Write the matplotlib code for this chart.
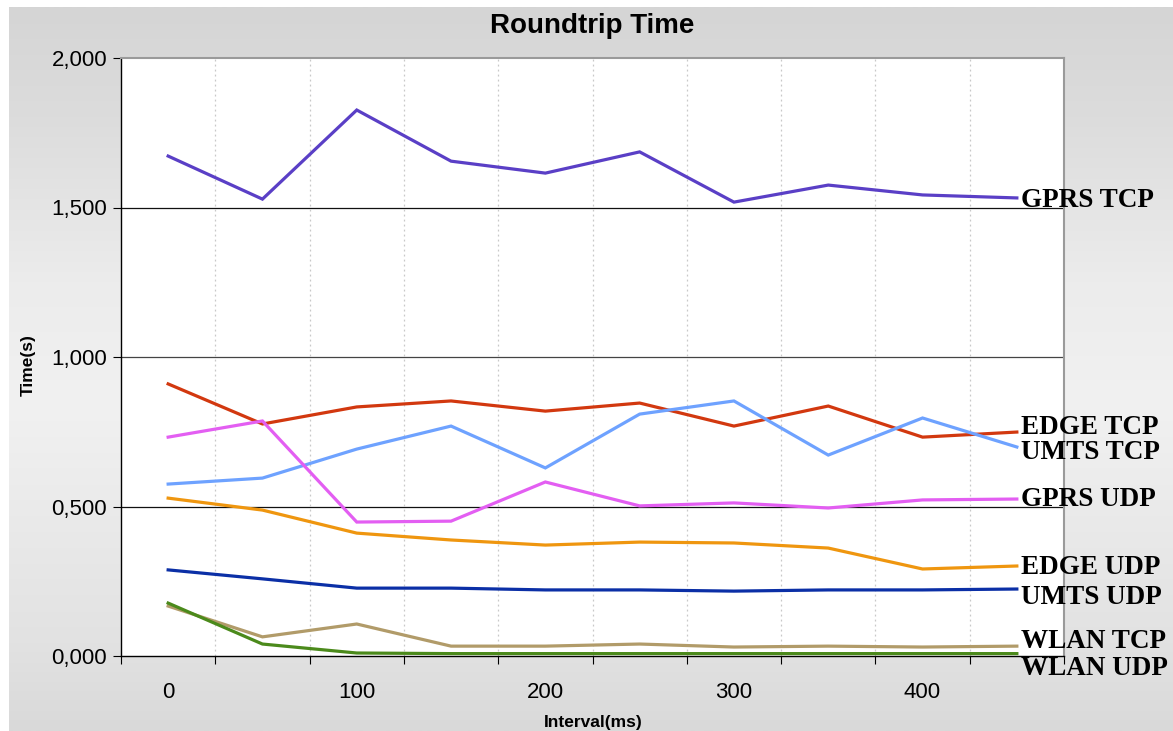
import numpy as np
import matplotlib
matplotlib.use("Agg")
import matplotlib.pyplot as plt
from matplotlib.colors import LinearSegmentedColormap

plt.rcParams['font.family'] = ['Liberation Sans', 'DejaVu Sans']

# interval (ms) and roundtrip times (s)
intervals = [0, 50, 100, 150, 200, 250, 300, 350, 400, 450]

gprs_tcp = [1.672, 1.528, 1.826, 1.655, 1.615, 1.686, 1.518, 1.575, 1.542, 1.532]
edge_tcp = [0.910, 0.776, 0.833, 0.853, 0.819, 0.846, 0.769, 0.836, 0.732, 0.749]
umts_tcp = [0.575, 0.595, 0.692, 0.769, 0.629, 0.809, 0.853, 0.672, 0.796, 0.699]
gprs_udp = [0.732, 0.786, 0.448, 0.451, 0.582, 0.502, 0.512, 0.495, 0.522, 0.525]
edge_udp = [0.528, 0.488, 0.411, 0.388, 0.371, 0.381, 0.378, 0.361, 0.291, 0.301]
umts_udp = [0.288, 0.258, 0.227, 0.227, 0.221, 0.221, 0.217, 0.221, 0.221, 0.224]
wlan_tcp = [0.167, 0.064, 0.107, 0.033, 0.033, 0.040, 0.030, 0.033, 0.030, 0.033]
wlan_udp = [0.177, 0.040, 0.010, 0.008, 0.008, 0.008, 0.008, 0.008, 0.008, 0.008]

names = ["GPRS TCP", "EDGE TCP", "UMTS TCP", "GPRS UDP",
         "EDGE UDP", "UMTS UDP", "WLAN TCP", "WLAN UDP"]
series = [gprs_tcp, edge_tcp, umts_tcp, gprs_udp, edge_udp, umts_udp, wlan_tcp, wlan_udp]
colors = ["#5a3fc6", "#d2380f", "#6ea2ff", "#e35ef2",
          "#ef960f", "#0b2fa6", "#b19b69", "#4b8a1b"]
# where the right-hand names sit (y, seconds)
label_y = [1.525, 0.763, 0.679, 0.524, 0.297, 0.196, 0.049, -0.041]

fig = plt.figure(figsize=(11.73, 7.31), dpi=100)
fig.patch.set_facecolor("white")

# gray gradient panel behind everything
bg = fig.add_axes([9 / 1173, 0, 1 - 9 / 1173, 1 - 7 / 731], zorder=-10)
cmap = LinearSegmentedColormap.from_list(
    "bg", [(0.0, "#d9d9d9"), (0.12, "#e2e2e2"), (0.45, "#f1f1f1"),
           (0.62, "#ececec"), (0.85, "#dcdcdc"), (1.0, "#d5d5d5")])
grad = np.linspace(0, 1, 256).reshape(-1, 1)
bg.imshow(grad, aspect="auto", cmap=cmap, origin="lower", extent=[0, 1, 0, 1])
bg.set_axis_off()

ax = fig.add_axes([121 / 1173, 1 - 656 / 731, (1064 - 121) / 1173, (656 - 58) / 731])
ax.set_facecolor("white")

for vals, c in zip(series, colors):
    ax.plot(intervals, vals, color=c, lw=2.3, solid_joinstyle="miter", zorder=3)

for name, yy in zip(names, label_y):
    ax.text(452, yy, name, fontsize=19.5, fontweight="bold", family="Liberation Serif",
            ha="left", va="center", clip_on=False, zorder=5)

ax.set_xlim(-25, 475)
ax.set_ylim(0, 2.0)

# category boundaries carry the tick marks, labels every 100 ms
ax.set_xticks(np.arange(-25, 476, 50))
ax.set_xticklabels([])
ax.set_xticks([0, 100, 200, 300, 400], minor=True)
ax.set_xticklabels(["0", "100", "200", "300", "400"], minor=True)
ax.tick_params(axis="x", which="major", length=6, direction="out", color="black")
ax.tick_params(axis="x", which="minor", length=0, pad=19, labelsize=16)

yt = [0, 0.5, 1.0, 1.5, 2.0]
ax.set_yticks(yt)
ax.set_yticklabels([("%.3f" % v).replace(".", ",") for v in yt])
ax.tick_params(axis="y", length=6, direction="out", labelsize=16, pad=4)

for v in [0.5, 1.5]:
    ax.axhline(v, color="#111111", lw=0.9, zorder=1)
ax.axhline(1.0, color="#444444", lw=0.9, zorder=1)
for xv in np.arange(25, 475, 50):
    ax.axvline(xv, color="#c8c8c8", lw=0.9, ls=(0, (1.5, 2.5)), zorder=1)

ax.spines["left"].set_color("black")
ax.spines["bottom"].set_color("black")
ax.spines["top"].set_color("#9a9a9a")
ax.spines["right"].set_color("#9a9a9a")
for s in ax.spines.values():
    s.set_linewidth(1.0)
ax.spines["top"].set_linewidth(1.5)
ax.spines["right"].set_linewidth(1.5)

ax.set_title("Roundtrip Time", fontsize=20, fontweight="bold", pad=18)
ax.set_ylabel("Time(s)", fontsize=12.5, fontweight="bold")
ax.set_xlabel("Interval(ms)", fontsize=12.5, fontweight="bold")
ax.xaxis.set_label_coords((593 - 121) / (1064 - 121), -(715 - 656) / (656 - 58))
ax.yaxis.set_label_coords(-(121 - 36) / (1064 - 121), (656 - 365) / (656 - 58))

fig.savefig("out.png", dpi=100)
